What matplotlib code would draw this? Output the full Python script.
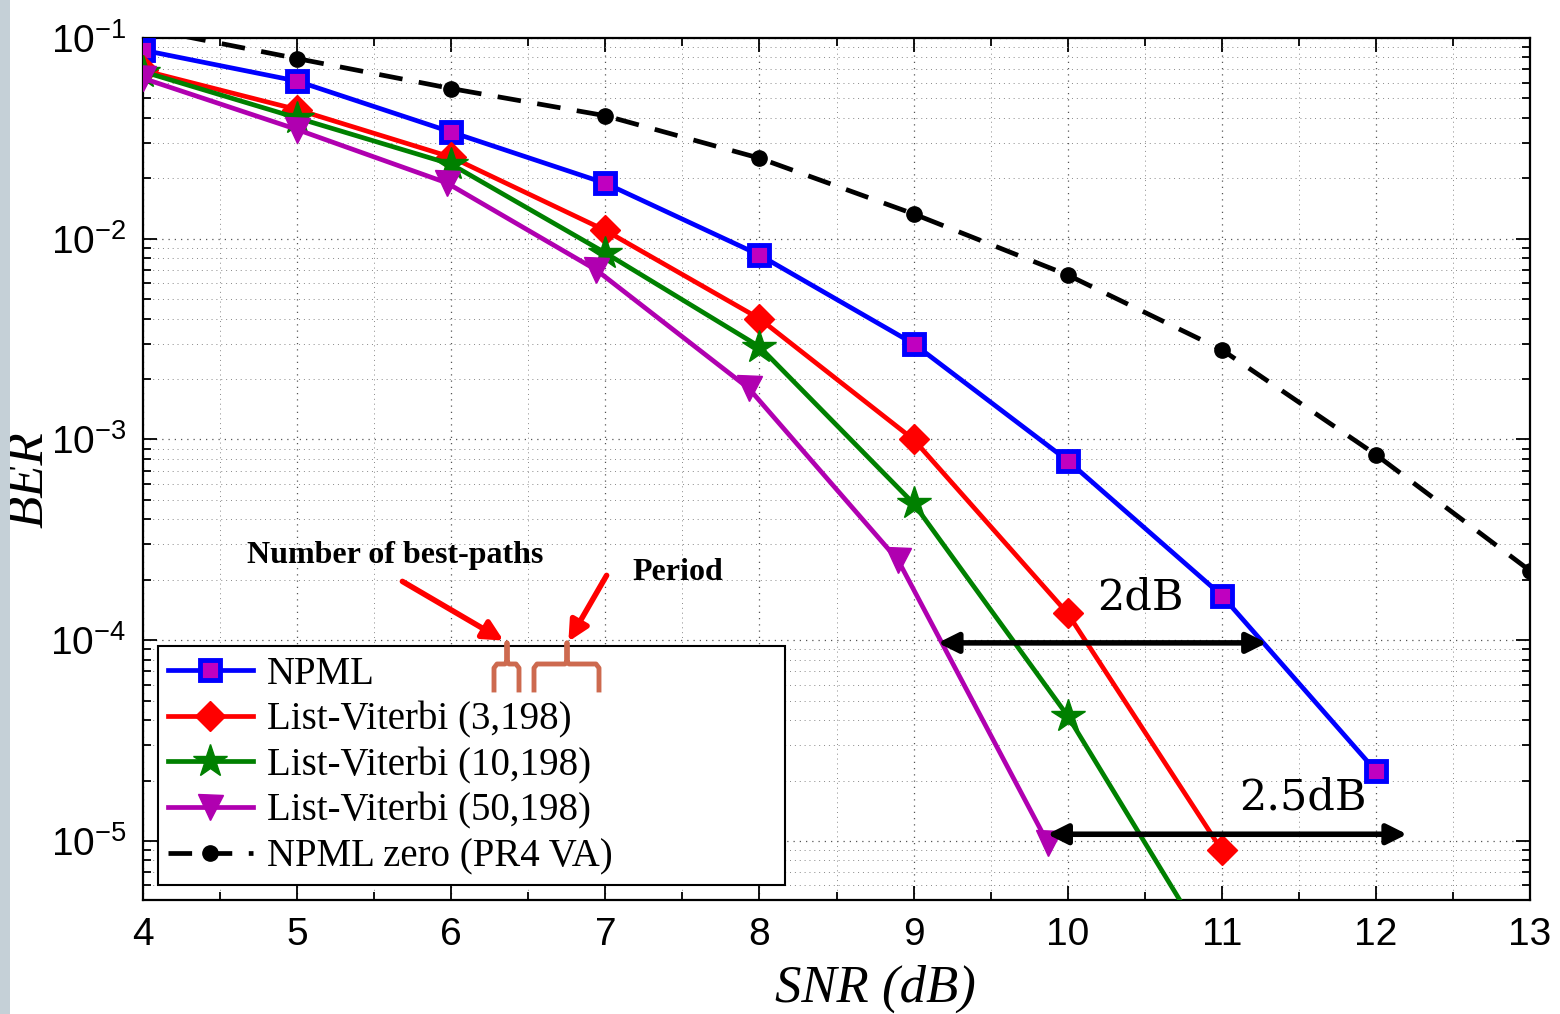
import matplotlib
matplotlib.use("Agg")
import matplotlib.pyplot as plt
import numpy as np
from matplotlib.patches import Rectangle
from matplotlib.ticker import LogLocator, MultipleLocator, FixedLocator, NullFormatter

# ---- data ----
snr = [4, 5, 6, 7, 8, 9, 10, 11, 12]
ber_npml = [0.087, 0.061, 0.034, 0.0189, 0.0083, 0.0030, 7.85e-4, 1.67e-4, 2.23e-5]

snr_lv3 = [4, 5, 6, 7, 8, 9, 10, 11]
ber_lv3 = [0.069, 0.044, 0.0255, 0.011, 0.0040, 1.0e-3, 1.36e-4, 9.0e-6]

snr_lv10 = [4, 5, 6, 7, 8, 9, 10, 11]
ber_lv10 = [0.068, 0.040, 0.0235, 0.0085, 0.0029, 4.8e-4, 4.2e-5, 2.3e-6]

snr_lv50 = [4, 5, 5.97, 6.94, 7.93, 8.9, 9.87]
ber_lv50 = [0.063, 0.035, 0.019, 0.0070, 0.0018, 2.5e-4, 9.8e-6]

snr_zero = [4, 5, 6, 7, 8, 9, 10, 11, 12, 13]
ber_zero = [0.112, 0.079, 0.056, 0.041, 0.0252, 0.0133, 0.0066, 0.0028, 8.4e-4, 2.22e-4]

labels = ["NPML", "List-Viterbi (3,198)", "List-Viterbi (10,198)",
          "List-Viterbi (50,198)", "NPML zero (PR4 VA)"]
xticks = [4, 5, 6, 7, 8, 9, 10, 11, 12, 13]

# ---- figure ----
W, H = 1560, 1014
fig = plt.figure(figsize=(W / 100, H / 100), dpi=100)
fig.patches.append(Rectangle((0, 0), 10 / W, 1, transform=fig.transFigure,
                             facecolor="#c5d0d7", edgecolor="none", zorder=0))

L, R, T, B = 143, 1530, 38, 900
ax = fig.add_axes([L / W, 1 - B / H, (R - L) / W, (B - T) / H])

lw = 3.4
ax.semilogy(snr, ber_npml, "-s", color="blue", lw=lw, ms=14, mfc="#c000c0",
            mec="blue", mew=3.5, label=labels[0], zorder=5)
ax.semilogy(snr_lv3, ber_lv3, "-D", color="red", lw=lw, ms=15, mfc="red",
            mec="red", label=labels[1], zorder=5)
ax.semilogy(snr_lv10, ber_lv10, "-*", color="green", lw=lw, ms=25, mfc="green",
            mec="green", label=labels[2], zorder=5)
ax.semilogy(snr_lv50, ber_lv50, "-v", color="#b000b0", lw=lw, ms=18, mfc="#b000b0",
            mec="#b000b0", label=labels[3], zorder=5)
ax.semilogy(snr_zero, ber_zero, "--o", color="black", lw=lw, ms=11, mfc="black",
            mec="black", dashes=(5, 3.5), label=labels[4], zorder=5)

ax.set_xlim(4, 13)
ax.set_ylim(5.08e-6, 0.1)

ax.xaxis.set_major_locator(FixedLocator(xticks))
ax.xaxis.set_minor_locator(MultipleLocator(0.5))
ax.yaxis.set_major_locator(LogLocator(base=10, numticks=20))
ax.yaxis.set_minor_locator(LogLocator(base=10, subs=np.arange(2, 10), numticks=20))
ax.yaxis.set_minor_formatter(NullFormatter())

ax.grid(True, which="major", ls=(0, (1, 4)), color="#555555", lw=0.9)
ax.grid(True, which="minor", ls=(0, (1, 4)), color="#888888", lw=0.7)
ax.tick_params(which="both", direction="in", top=True, right=True, width=1.3)
ax.tick_params(which="major", length=10, labelsize=28, pad=12)
ax.tick_params(which="minor", length=6)
for lab in ax.get_xticklabels() + ax.get_yticklabels():
    lab.set_fontfamily("Liberation Sans")
for s in ax.spines.values():
    s.set_linewidth(1.6)

def fx(px):
    return (px - L) / (R - L)

def fy(py):
    return (B - py) / (B - T)

ax.set_xlabel("SNR (dB)", fontsize=38, fontstyle="italic",
              fontfamily="Liberation Serif")
ax.xaxis.set_label_coords(fx(875), -0.075)
ax.set_ylabel("BER", fontsize=38, fontstyle="italic",
              fontfamily="Liberation Serif")
ax.yaxis.set_label_coords(fx(54), fy(480))

leg = ax.legend(loc="lower left", bbox_to_anchor=(0.0108, 0.0174, 0.452, 0.289),
                mode="expand", fancybox=False, edgecolor="black", framealpha=1,
                prop={"family": "Liberation Serif", "size": 28},
                handlelength=2.2, handletextpad=0.35, borderpad=0.25,
                labelspacing=0.22, borderaxespad=0)
leg.get_frame().set_linewidth(1.5)
leg.set_zorder(10)

# ---- annotations ----
arrow_kw = dict(arrowstyle="<|-|>", color="black", lw=4, mutation_scale=30)
ax.annotate("", xy=(9.14, 9.7e-5), xytext=(11.31, 9.7e-5), arrowprops=arrow_kw, zorder=8)
ax.annotate("", xy=(9.85, 1.08e-5), xytext=(12.22, 1.08e-5), arrowprops=arrow_kw, zorder=8)
ax.text(fx(1140), fy(597), "2dB", transform=ax.transAxes, ha="center", va="center",
        fontsize=31, fontfamily="DejaVu Serif", zorder=9)
ax.text(fx(1303), fy(797), "2.5dB", transform=ax.transAxes, ha="center", va="center",
        fontsize=31, fontfamily="DejaVu Serif", zorder=9)

ax.text(fx(395), fy(556), "Number of best-paths", transform=ax.transAxes,
        ha="center", va="center", fontsize=23, fontweight="bold",
        fontfamily="Liberation Serif", zorder=9)
ax.text(fx(678), fy(573), "Period", transform=ax.transAxes,
        ha="center", va="center", fontsize=23, fontweight="bold",
        fontfamily="Liberation Serif", zorder=9)

red_kw = dict(arrowstyle="-|>", color="red", lw=4, mutation_scale=30)
ax.annotate("", xy=(fx(506), fy(642)), xytext=(fx(400), fy(580)),
            xycoords="axes fraction", textcoords="axes fraction", arrowprops=red_kw, zorder=12)
ax.annotate("", xy=(fx(567), fy(644)), xytext=(fx(608), fy(573)),
            xycoords="axes fraction", textcoords="axes fraction", arrowprops=red_kw, zorder=12)

bc = "#cd6a4f"
def bracket(x0, x1, xm, ytop=643, ymid=664, ybot=690):
    xs = [x0, x0, x0 + 3, xm - 2, xm, xm, xm, xm + 2, x1 - 3, x1, x1]
    ys = [ybot, ymid + 4, ymid, ymid, ymid - 3, ytop, ymid - 3, ymid, ymid, ymid + 4, ybot]
    ax.plot([fx(v) for v in xs], [fy(v) for v in ys], color=bc, lw=3.5,
            transform=ax.transAxes, zorder=12, clip_on=False, solid_joinstyle="round")

bracket(494, 519, 507)
bracket(534, 599, 567)

fig.savefig("out.png", dpi=100)
